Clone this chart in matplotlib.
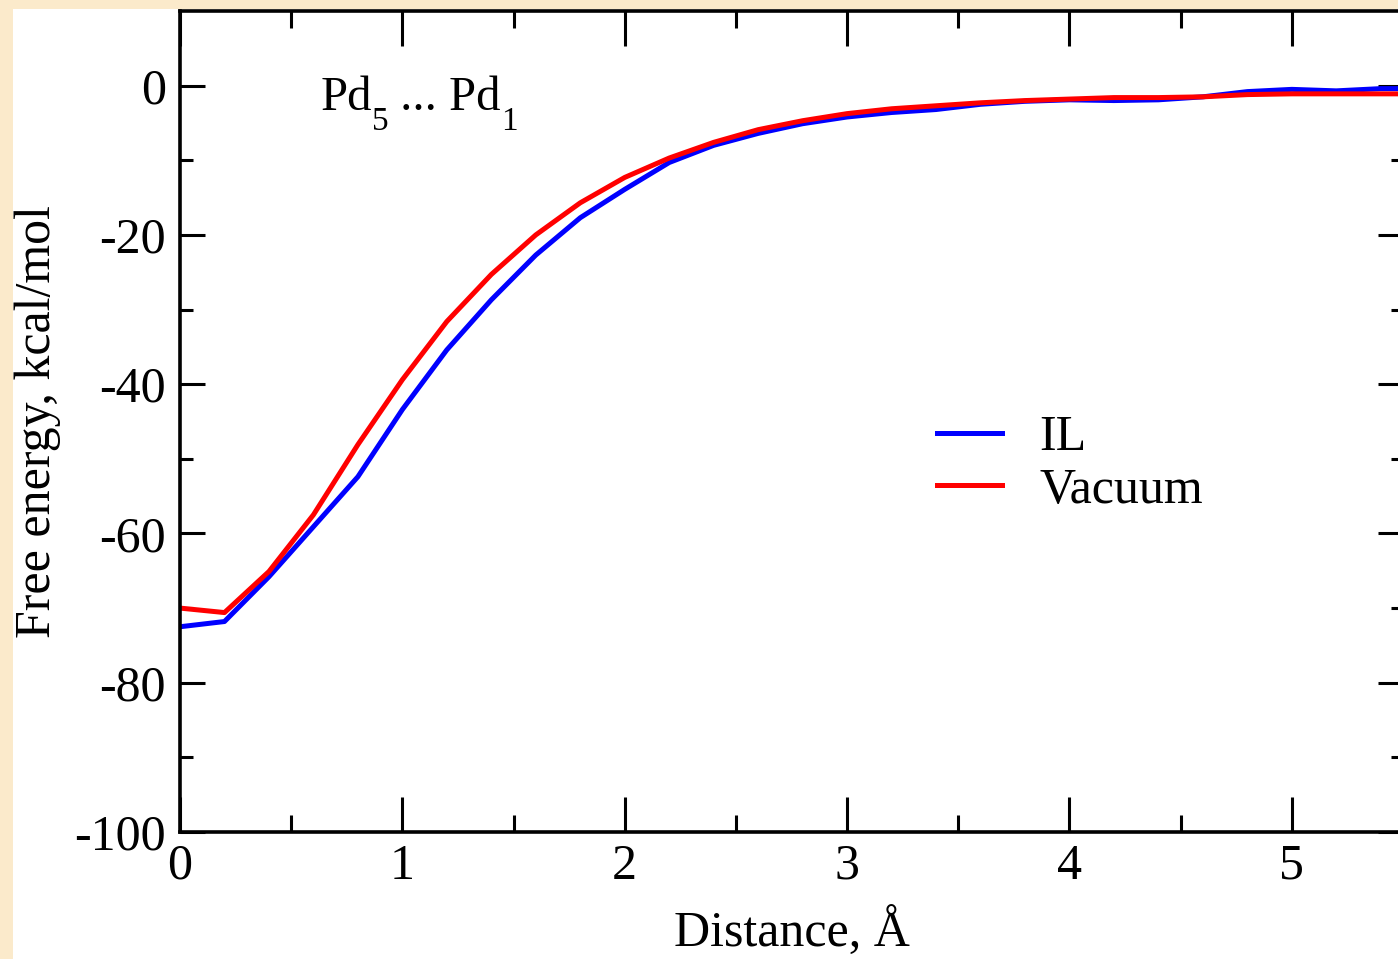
import numpy as np
import matplotlib
matplotlib.use('Agg')
import matplotlib.pyplot as plt
from matplotlib.patches import Rectangle
from matplotlib.transforms import offset_copy

# Datos (paso de 0.2 A)
distancia = [0.0, 0.2, 0.4, 0.6, 0.8, 1.0, 1.2, 1.4, 1.6, 1.8, 2.0, 2.2, 2.4, 2.6,
             2.8, 3.0, 3.2, 3.4, 3.6, 3.8, 4.0, 4.2, 4.4, 4.6, 4.8, 5.0, 5.2, 5.4, 5.6]
energia_il = [-72.5, -71.8, -65.8, -59.1, -52.4, -43.4, -35.4, -28.7, -22.7, -17.7,
              -13.9, -10.3, -8.0, -6.4, -5.1, -4.2, -3.6, -3.2, -2.5, -2.1, -1.9,
              -2.0, -1.9, -1.5, -0.8, -0.5, -0.7, -0.4, -0.4]
energia_vacio = [-70.0, -70.6, -65.1, -57.5, -48.1, -39.4, -31.6, -25.3, -20.0, -15.7,
                 -12.3, -9.7, -7.6, -5.9, -4.7, -3.75, -3.1, -2.7, -2.3, -2.0, -1.8,
                 -1.6, -1.6, -1.5, -1.2, -1.1, -1.1, -1.1, -1.1]

plt.rcParams['font.family'] = ['Liberation Serif', 'DejaVu Serif']
plt.rcParams['axes.unicode_minus'] = False

fig = plt.figure(figsize=(13.98, 9.59), dpi=100)
fig.patch.set_facecolor('#fbeacb')
# zona blanca (diapositiva recortada)
fig.patches.append(Rectangle((13/1398, 0), 1, 1 - 9/959, transform=fig.transFigure,
                             facecolor='white', edgecolor='none', zorder=-10))

ax = fig.add_axes([180/1398, 1 - 832/959, 1223/1398, 821/959])
ax.set_facecolor('white')

ax.plot(distancia, energia_il, color='#0000ff', lw=3.6, label='IL')
ax.plot(distancia, energia_vacio, color='#ff0000', lw=3.6, label='Vacuum')

ax.set_xlim(0, 5.5)
ax.set_ylim(-100, 10)
ax.set_xticks([0, 1, 2, 3, 4, 5])
ax.set_xticks(np.arange(0.5, 5.5, 1.0), minor=True)
ax.set_yticks([-100, -80, -60, -40, -20, 0])
ax.set_yticks(np.arange(-90, 10, 20), minor=True)

ax.tick_params(which='both', direction='in', top=True, right=True, width=2.2,
               labelsize=36)
ax.tick_params(axis='x', which='major', length=25, pad=8)
ax.tick_params(axis='x', which='minor', length=12.5)
ax.tick_params(axis='y', which='major', length=18, pad=10)
ax.tick_params(axis='y', which='minor', length=9)
for s in ax.spines.values():
    s.set_linewidth(2.6)

ax.set_xlabel('Distance, Å', fontsize=36, labelpad=13)
ax.set_ylabel('Free energy, kcal/mol', fontsize=36, labelpad=10)

ax.legend(loc='upper left', bbox_to_anchor=(0.619, 0.508), frameon=False,
          fontsize=36, handlelength=1.3, handletextpad=0.75, labelspacing=0.12,
          borderpad=0, borderaxespad=0)

# Etiqueta Pd5 ... Pd1 con subindices bajos, pieza por pieza
fig.canvas.draw()
renderer = fig.canvas.get_renderer()
piezas = [('Pd', 35, 0), ('5', 24, -15), (' ... Pd', 35, 0), ('1', 24, -15)]
dx = 0.0
for texto, tam, dy in piezas:
    tr = offset_copy(ax.transData, fig=fig, x=dx, y=dy, units='points')
    t = ax.text(0.63, -3.2, texto, fontsize=tam, va='baseline', transform=tr)
    ancho = t.get_window_extent(renderer).width * 72.0 / fig.dpi
    dx += ancho

fig.savefig('out.png', dpi=100, facecolor=fig.get_facecolor())
